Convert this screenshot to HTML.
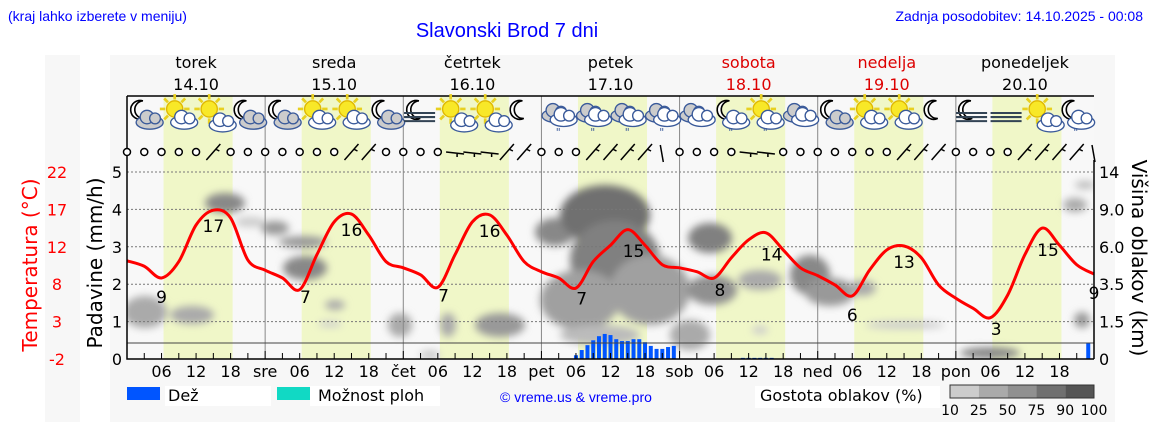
<!DOCTYPE html>
<html><head><meta charset="utf-8"><style>
html,body{margin:0;padding:0;background:#fff;width:1152px;height:443px;overflow:hidden}
svg{display:block;font-family:"DejaVu Sans","Liberation Sans",sans-serif}
</style></head><body>
<svg id="c" width="1152" height="443" viewBox="0 0 1152 443" xmlns="http://www.w3.org/2000/svg">
<defs><filter id="bl" x="-50%" y="-50%" width="200%" height="200%"><feGaussianBlur stdDeviation="4"/></filter>
<clipPath id="pc"><rect x="127" y="160" width="967" height="199"/></clipPath></defs>
<rect x="45" y="55" width="35" height="367" fill="#f7f7f7"/>
<rect x="110" y="55" width="1005" height="367" fill="#f7f7f7"/>
<text x="8" y="21" font-family="Liberation Sans,sans-serif" font-size="14" fill="#0000ff">(kraj lahko izberete v meniju)</text>
<text x="507" y="37" text-anchor="middle" font-family="Liberation Sans,sans-serif" font-size="20" fill="#0000ff">Slavonski Brod 7 dni</text>
<text x="1143" y="21" text-anchor="end" font-family="Liberation Sans,sans-serif" font-size="14" fill="#0000ff">Zadnja posodobitev: 14.10.2025 - 00:08</text>
<g id="plot"></g>
<text transform="translate(37,265) rotate(-90)" text-anchor="middle" font-size="20" fill="#ff0000">Temperatura (°C)</text>
<text transform="translate(102,263) rotate(-90)" text-anchor="middle" font-size="20" fill="#000">Padavine (mm/h)</text>
<text transform="translate(1132,258) rotate(90)" text-anchor="middle" font-size="20" fill="#000">Višina oblakov (km)</text>
<g>
<rect x="165" y="386" width="106" height="20" fill="#fff"/>
<rect x="127" y="387" width="33" height="13" fill="#0055ff"/>
<text x="168" y="401" font-size="16">Dež</text>
<rect x="310" y="386" width="130" height="20" fill="#fff"/>
<rect x="277" y="387" width="33" height="13" fill="#11d9c4"/>
<text x="318" y="401" font-size="16">Možnost ploh</text>
<text x="500" y="402" font-family="Liberation Sans,sans-serif" font-size="14" fill="#0000ff">© vreme.us &amp; vreme.pro</text>
<rect x="755" y="386" width="185" height="22" fill="#fff"/>
<text x="760" y="401" font-size="16">Gostota oblakov (%)</text>
<g id="cscale"></g>
</g>
</svg>
<script>
const NS='http://www.w3.org/2000/svg';
const temps=[10.6,9.9,8.4,10.5,15.2,17.1,16.1,10.7,9.4,8.4,6.9,11.4,15.6,16.6,13.9,10.5,9.7,8.8,7.2,11.4,15.6,16.5,13.9,10.5,9.2,8.4,7.1,10.5,12.6,14.6,12.6,10.1,9.7,9.2,8.4,11.0,13.3,14.2,12.0,9.7,8.7,7.5,6.1,9.4,12.0,12.5,11.0,7.5,5.8,4.5,3.3,6.2,11.4,14.8,12.6,10.1,8.9];
const tempHoursStep=3;
const extremeLabels=['9','17','7','16','7','16','7','15','8','14','6','13','3','15','9'];
const extremeHours=[6,15,31,39,55,63,79,88,103,112,126,135,151,160,168];
const extremeIsMax=[0,1,0,1,0,1,0,1,0,1,0,1,0,1,0];
const rainHours=[78,79,80,81,82,83,84,85,86,87,88,89,90,91,92,93,94,95,107,108,109,110,111,112,167];
const rainValues=[0.1,0.24,0.37,0.5,0.61,0.67,0.64,0.53,0.48,0.48,0.53,0.53,0.45,0.35,0.27,0.27,0.32,0.35,0.03,0.03,0.03,0.03,0.03,0.03,0.43];
const dayNames=['torek','sreda','četrtek','petek','sobota','nedelja','ponedeljek'];
const dayDates=['14.10','15.10','16.10','17.10','18.10','19.10','20.10'];
const dayWeekend=[0,0,0,0,1,1,0];
const dayAbbr=['sre','čet','pet','sob','ned','pon'];
const precipTicks=[0,1,2,3,4,5];
const tempTicks=['-2','3','8','12','17','22'];
const heightTicks=['0','1.5','3.5','6.0','9.0','14'];
const iconTypes=['mc','sc','s','mc','mc','sc','sc','mc','mf','s','s','m','r','r','r','r','c','mr','sr','c','mc','sc','sc','m','mf','f','s','mr'];
const windTypes=['o','o','o','o','o','b','o','o','o','o','o','o','o','b','b','o','o','o','o','l','l','l','b','b','o','o','o','b','b','b','b','v','o','o','o','o','l','l','o','o','o','o','o','o','o','b','b','b','o','o','o','o','b','b','b','b','v'];
const X0=127,X1=1094,Y0=359,PY=37.4;
const xh=h=>X0+h*(X1-X0)/168;
const yp=v=>Y0-v*PY;
const yt=t=>Y0-(t+2)*187/24;
const plot=document.getElementById('plot');
function el(tag,attrs,parent,txt){const e=document.createElementNS(NS,tag);for(const k in attrs)e.setAttribute(k,attrs[k]);if(txt!==undefined)e.textContent=txt;(parent||plot).appendChild(e);return e;}
let bg=el('rect',{x:X0,y:96,width:X1-X0,height:Y0-96,fill:'#f8f8f8'});


for(let d=0;d<7;d++){
  const r=el('rect',{x:xh(d*24+6)+2,y:96,width:xh(18)-xh(6),height:Y0-96,fill:'#f0f7c8'});
  
  
  const n=el('text',{x:xh(d*24+12),y:68,'text-anchor':'middle','font-size':16,fill:dayWeekend[d]?'#dd0000':'#000'},null,dayNames[d]);
  
  
  const dt=el('text',{x:xh(d*24+12),y:90,'text-anchor':'middle','font-size':16,fill:dayWeekend[d]?'#dd0000':'#000'},null,dayDates[d]);
  
  
}
const blobs=[[145,312,22,16,'#aaa'],[192,315,22,9,'#aaa'],[225,203,20,10,'#888'],[250,222,15,5,'#ccc'],[275,228,14,7,'#999'],[303,242,24,6,'#999'],[305,268,22,12,'#888'],[335,305,10,5,'#aaa'],[330,324,12,3,'#ccc'],[400,325,12,12,'#aaa'],[448,325,8,12,'#aaa'],[500,325,25,12,'#999'],[430,355,10,5,'#ccc'],[555,232,20,14,'#888'],[570,280,15,8,'#999'],[605,215,45,30,'#707070'],[615,260,45,40,'#808080'],[580,300,40,30,'#a0a0a0'],[650,290,40,35,'#a0a0a0'],[600,335,40,10,'#bbb'],[710,238,22,15,'#808080'],[712,290,25,15,'#909090'],[690,335,20,15,'#aaa'],[760,280,22,10,'#aaa'],[810,275,20,20,'#888'],[830,292,25,14,'#999'],[862,288,14,8,'#aaa'],[905,325,40,4,'#ccc'],[760,330,8,4,'#ccc'],[990,353,30,6,'#888'],[1075,205,12,7,'#aaa'],[1082,320,8,8,'#999'],[1085,185,10,4,'#bbb']];
const cg=el('g',{filter:'url(#bl)','clip-path':'url(#pc)'});


blobs.forEach(b=>el('ellipse',{cx:b[0],cy:b[1],rx:b[2],ry:b[3],fill:b[4]},cg));
precipTicks.forEach((v,i)=>{
  if(v>0){const g=el('line',{x1:X0,x2:X1,y1:yp(v),y2:yp(v),stroke:'#777','stroke-dasharray':'2,2','stroke-width':1});
  
  }
  const t=el('text',{x:122,y:yp(v)+6,'text-anchor':'end','font-size':16},null,String(v));
  
  
  const tt=el('text',{x:57,y:yp(v)+6,'text-anchor':'middle','font-size':16,fill:'#ff0000'},null,tempTicks[i]);
  
  
  const ht=el('text',{x:1099,y:yp(v)+6,'font-size':16},null,heightTicks[i]);
  
  
});
for(let d=1;d<7;d++){const l=el('line',{x1:xh(d*24),x2:xh(d*24),y1:96,y2:Y0,stroke:'#888'});
  
  }
rainHours.forEach((h,i)=>{const b=el('rect',{x:xh(h)-2,y:yp(rainValues[i]),width:4,height:rainValues[i]*PY,fill:'#0055ff'});
  
  });
let hl=el('line',{x1:X0,x2:X1,y1:343,y2:343,stroke:'#444'});


const pts=temps.map((t,i)=>[xh(i*tempHoursStep),yt(t)]);
let d='M'+pts[0][0]+','+pts[0][1];
for(let i=0;i<pts.length-1;i++){const p0=pts[Math.max(0,i-1)],p1=pts[i],p2=pts[i+1],p3=pts[Math.min(pts.length-1,i+2)];
  d+=` C${p1[0]+(p2[0]-p0[0])/6},${p1[1]+(p2[1]-p0[1])/6} ${p2[0]-(p3[0]-p1[0])/6},${p2[1]-(p3[1]-p1[1])/6} ${p2[0]},${p2[1]}`;}
const tl=el('path',{d:d,fill:'none',stroke:'#ff0000','stroke-width':3});


function tAt(h){const i=Math.min(temps.length-2,Math.floor(h/3)),f=h/3-i;return temps[i]*(1-f)+temps[i+1]*f;}
extremeHours.forEach((h,i)=>{const x=Math.min(xh(h),1094),y=yt(tAt(h));
  const t=el('text',{x:x,y:extremeIsMax[i]?y+22:y+25,'text-anchor':'middle','font-size':17},null,extremeLabels[i]);
  
  });
let ax=el('path',{d:`M${X0},96 H${X1} M${X0},96 V${Y0} H${X1} M${X1},160 V${Y0}`,fill:'none',stroke:'#000','stroke-width':1.5});


for(let h=3;h<168;h+=3){const tk=el('line',{x1:xh(h),x2:xh(h),y1:Y0,y2:Y0-(h%24==0?8:6),stroke:'#000'});
  
  }
for(let dd=0;dd<7;dd++){['06','12','18'].forEach((s,k)=>{const t=el('text',{x:xh(dd*24+6*(k+1)),y:377,'text-anchor':'middle','font-size':16},null,s);
  
  });
  if(dd<6){const a=el('text',{x:xh(dd*24+24),y:377,'text-anchor':'middle','font-size':16},null,dayAbbr[dd]);
  
  }}
function cloud(g,x,y,c){el('ellipse',{cx:x,cy:y+3,rx:10,ry:5,fill:c||'#ccc',stroke:'#3a5a9a','stroke-width':1},g);el('circle',{cx:x-2,cy:y-1,r:5,fill:c||'#ccc',stroke:'#3a5a9a','stroke-width':1},g);el('circle',{cx:x+4,cy:y,r:4,fill:c||'#ccc',stroke:'#3a5a9a','stroke-width':1},g);}
function sun(g,x,y){for(let a=0;a<8;a++){const an=a*Math.PI/4;el('line',{x1:x+Math.cos(an)*7,y1:y+Math.sin(an)*7,x2:x+Math.cos(an)*11,y2:y+Math.sin(an)*11,stroke:'#e8d020','stroke-width':2},g);}el('circle',{cx:x,cy:y,r:6,fill:'#f8e828',stroke:'#e0b800'},g);}
function moon(g,x,y){el('path',{d:`M${x+2},${y-7} A7,7 0 1,0 ${x+3},${y+6} A5.5,5.5 0 1,1 ${x+2},${y-7}Z`,fill:'#fff',stroke:'#000','stroke-width':1.2},g);}
iconTypes.forEach((tp,i)=>{const cx=X0+34.5*(i+0.5),cy=113;const g=el('g',{transform:`translate(${cx},${cy}) scale(1.35)`});
  
  
  const x=0,y=0;
  if(tp[0]=='m'){moon(g,x-3,y-2);}
  if(tp[0]=='s'){sun(g,x-3,y-3);}
  if(tp=='mc'||tp=='sc'||tp=='mr'||tp=='sr'){cloud(g,x+4,y+4,tp=='mc'?'#ccc':'#fff');}
  if(tp=='s'){cloud(g,x+7,y+6,'#fff');}
  if(tp=='r'||tp=='c'){cloud(g,x-2,y-1,'#ccc');cloud(g,x+4,y+2,'#fff');}
  if(tp=='r'||tp=='mr'||tp=='sr'){el('text',{x:x,y:y+17,'font-size':8,fill:'#3a5a9a','text-anchor':'middle'},g,'"');}
  if(tp=='mf'||tp=='f'){for(let k=0;k<3;k++)el('line',{x1:x-12,x2:x+11,y1:y+k*3,y2:y+k*3,stroke:'#345',"stroke-width":1.5},g);}
});
windTypes.forEach((tp,i)=>{const x=xh(i*3),y=152;const g=el('g',{});
  
  
  if(tp=='o')el('circle',{cx:x,cy:y,r:3.5,fill:'#fff',stroke:'#000','stroke-width':1.5},g);
  else if(tp=='b')el('path',{d:`M${x-7},${y+8} L${x+7},${y-8} M${x+2},${y-3} l4,2`,stroke:'#000','stroke-width':1.5,fill:'none'},g);
  else if(tp=='l')el('path',{d:`M${x-9},${y} L${x+9},${y+2} M${x+2},${y+1} l0,4`,stroke:'#000','stroke-width':1.5,fill:'none'},g);
  else el('path',{d:`M${x-2},${y-7} L${x+1},${y+10}`,stroke:'#000','stroke-width':1.5,fill:'none'},g);
});
const scaleColors=['#cccccc','#aaaaaa','#909090','#707070','#555555'];
const scaleLabels=['10','25','50','75','90','100'];
const cs=document.getElementById('cscale');
scaleColors.forEach((c,i)=>{const r=el('rect',{x:950+i*28.8,y:385,width:28.8,height:13,fill:c},cs);
  
  });
el('rect',{x:950,y:385,width:144,height:13,fill:'none',stroke:'#333'},cs);
scaleLabels.forEach((s,i)=>{const t=el('text',{x:950+i*28.8,y:415,'text-anchor':'middle','font-size':14},cs,s);
  
  });
</script>
</body></html>
